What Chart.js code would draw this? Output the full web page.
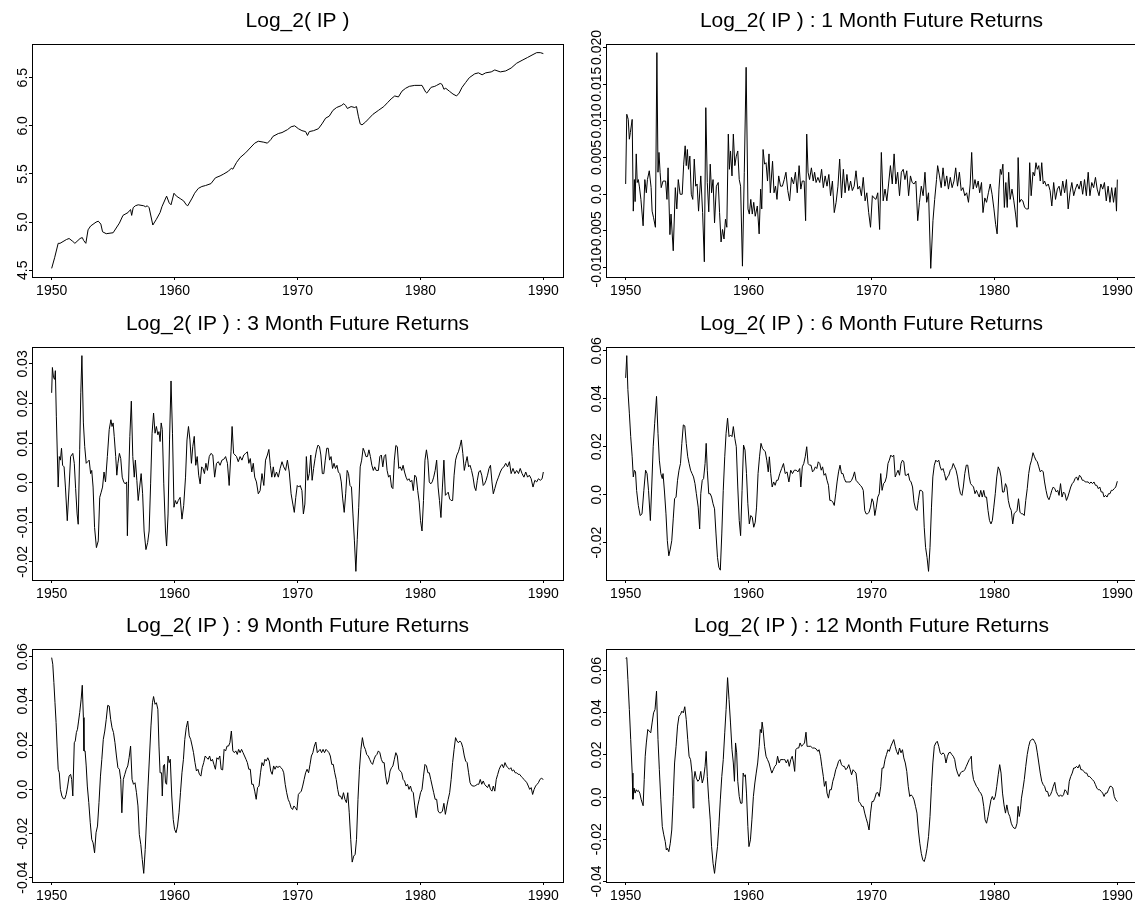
<!DOCTYPE html>
<html lang="en">
<head>
  <meta charset="UTF-8" />
  <title>Log_2( IP ) future returns</title>
  <script src="https://cdn.jsdelivr.net/npm/chart.js"></script>
  <style>
    html, body { margin: 0; padding: 0; background: #fff; overflow: hidden; }
    body { width: 1135px; height: 903px; position: relative; }
    .panel { position: absolute; width: 571px; height: 303px; }
  </style>
</head>
<body>
  <div class="panel" id="p1" style="left:0px; top:0px;"><canvas id="c1"></canvas></div>
  <div class="panel" id="p2" style="left:574px; top:0px;"><canvas id="c2"></canvas></div>
  <div class="panel" id="p3" style="left:0px; top:303px;"><canvas id="c3"></canvas></div>
  <div class="panel" id="p4" style="left:574px; top:303px;"><canvas id="c4"></canvas></div>
  <div class="panel" id="p5" style="left:0px; top:605px;"><canvas id="c5"></canvas></div>
  <div class="panel" id="p6" style="left:574px; top:605px;"><canvas id="c6"></canvas></div>

  <script>
    // ---- data ----
    const titles = [
      'Log_2( IP )',
      'Log_2( IP ) : 1 Month Future Returns',
      'Log_2( IP ) : 3 Month Future Returns',
      'Log_2( IP ) : 6 Month Future Returns',
      'Log_2( IP ) : 9 Month Future Returns',
      'Log_2( IP ) : 12 Month Future Returns'
    ];

    const xTickValues = [1950, 1960, 1970, 1980, 1990];
    const xTickLabels = ['1950', '1960', '1970', '1980', '1990'];

    const ipTicks = [4.5, 5.0, 5.5, 6.0, 6.5];
    const ipTickLabels = ['4.5', '5.0', '5.5', '6.0', '6.5'];
    const r1Ticks = [-0.010, -0.005, 0, 0.005, 0.010, 0.015, 0.020];
    const r1TickLabels = ['-0.010', '-0.005', '0.0', '0.005', '0.010', '0.015', '0.020'];
    const r3Ticks = [-0.02, -0.01, 0, 0.01, 0.02, 0.03];
    const r3TickLabels = ['-0.02', '-0.01', '0.0', '0.01', '0.02', '0.03'];
    const r6Ticks = [-0.02, 0, 0.02, 0.04, 0.06];
    const r6TickLabels = ['-0.02', '0.0', '0.02', '0.04', '0.06'];
    const r9Ticks = [-0.04, -0.02, 0, 0.02, 0.04, 0.06];
    const r9TickLabels = ['-0.04', '-0.02', '0.0', '0.02', '0.04', '0.06'];
    const r12Ticks = [-0.04, -0.02, 0, 0.02, 0.04, 0.06];
    const r12TickLabels = ['-0.04', '-0.02', '0.0', '0.02', '0.04', '0.06'];

    const ipDates = [
      1950.00,1950.24,1950.53,1950.68,1951.21,1951.42,1951.72,1951.89,1952.31,1952.49,
      1952.60,1952.78,1952.96,1953.17,1953.61,1953.79,1954.00,1954.14,1954.44,1955.00,
      1955.51,1955.80,1956.22,1956.33,1956.42,1956.51,1956.63,1956.81,1957.04,1957.49,
      1957.64,1957.78,1957.93,1958.23,1958.52,1958.82,1958.97,1959.35,1959.56,1959.71,
      1959.95,1960.15,1960.51,1960.74,1960.95,1961.07,1961.43,1961.63,1961.93,1962.22,
      1962.52,1962.96,1963.32,1963.70,1964.00,1964.39,1964.62,1964.74,1965.04,1965.33,
      1965.78,1966.22,1966.52,1966.81,1967.26,1967.55,1967.85,1968.00,1968.44,1968.74,
      1969.18,1969.48,1969.77,1970.07,1970.36,1970.66,1970.81,1970.96,1971.31,1971.70,
      1971.99,1972.29,1972.58,1972.88,1973.18,1973.56,1973.77,1973.92,1974.06,1974.36,
      1974.66,1974.80,1974.95,1975.10,1975.25,1975.54,1975.84,1976.14,1976.58,1977.02,
      1977.32,1977.62,1977.91,1978.21,1978.50,1978.80,1979.10,1979.54,1979.98,1980.13,
      1980.43,1980.52,1980.87,1981.17,1981.32,1981.61,1981.76,1981.91,1982.06,1982.35,
      1982.65,1982.94,1983.15,1983.39,1983.68,1983.98,1984.42,1984.72,1985.02,1985.31,
      1985.76,1986.05,1986.50,1986.94,1987.38,1987.83,1988.27,1988.72,1989.16,1989.46,
      1989.75,1990.00
    ];
    const ipValues = [
      4.52,4.63,4.78,4.78,4.82,4.83,4.80,4.78,4.83,4.84,
      4.81,4.78,4.92,4.96,5.00,5.01,4.98,4.90,4.88,4.89,
      4.99,5.07,5.10,5.12,5.13,5.07,5.15,5.17,5.18,5.17,
      5.16,5.17,5.15,4.97,5.03,5.10,5.16,5.27,5.20,5.18,
      5.30,5.27,5.24,5.22,5.18,5.17,5.25,5.30,5.35,5.37,
      5.38,5.40,5.46,5.48,5.50,5.53,5.56,5.55,5.62,5.67,
      5.72,5.78,5.82,5.84,5.83,5.82,5.86,5.89,5.92,5.93,
      5.96,5.99,6.00,5.97,5.95,5.94,5.90,5.94,5.95,5.97,
      6.02,6.08,6.10,6.16,6.19,6.21,6.23,6.21,6.18,6.20,
      6.19,6.20,6.10,6.02,6.01,6.04,6.08,6.12,6.16,6.20,
      6.24,6.28,6.31,6.30,6.36,6.39,6.41,6.42,6.42,6.42,
      6.35,6.34,6.40,6.41,6.42,6.44,6.43,6.38,6.39,6.36,
      6.33,6.31,6.34,6.40,6.45,6.50,6.54,6.55,6.53,6.55,
      6.56,6.58,6.56,6.57,6.60,6.65,6.68,6.71,6.74,6.76,
      6.76,6.75
    ];

    const r1Dates = [
      1950.00,1950.09,1950.21,1950.30,1950.38,1950.53,1950.62,1950.71,1950.77,1950.86,
      1950.94,1951.03,1951.12,1951.24,1951.42,1951.56,1951.68,1951.77,1951.92,1952.07,
      1952.15,1952.27,1952.42,1952.54,1952.63,1952.71,1952.80,1952.89,1953.04,1953.25,
      1953.36,1953.45,1953.60,1953.69,1953.87,1954.04,1954.16,1954.28,1954.43,1954.60,
      1954.72,1954.84,1954.93,1955.02,1955.11,1955.22,1955.34,1955.46,1955.58,1955.70,
      1955.81,1955.93,1956.11,1956.26,1956.40,1956.52,1956.64,1956.76,1956.88,1956.99,
      1957.11,1957.23,1957.38,1957.53,1957.64,1957.76,1957.88,1958.00,1958.12,1958.23,
      1958.35,1958.44,1958.53,1958.65,1958.76,1958.88,1959.00,1959.12,1959.24,1959.35,
      1959.50,1959.65,1959.80,1959.95,1960.06,1960.18,1960.30,1960.42,1960.54,1960.71,
      1960.86,1960.98,1961.07,1961.18,1961.30,1961.42,1961.54,1961.66,1961.77,1961.95,
      1962.07,1962.19,1962.31,1962.45,1962.60,1962.75,1962.90,1963.04,1963.19,1963.34,
      1963.49,1963.66,1963.81,1963.96,1964.11,1964.25,1964.37,1964.52,1964.64,1964.73,
      1964.84,1964.96,1965.11,1965.26,1965.37,1965.49,1965.64,1965.79,1965.94,1966.08,
      1966.23,1966.38,1966.53,1966.67,1966.82,1966.97,1967.12,1967.27,1967.41,1967.56,
      1967.71,1967.85,1968.00,1968.15,1968.30,1968.44,1968.59,1968.74,1968.89,1969.03,
      1969.18,1969.33,1969.48,1969.62,1969.77,1969.92,1970.07,1970.21,1970.36,1970.51,
      1970.66,1970.80,1970.95,1971.10,1971.25,1971.39,1971.54,1971.69,1971.84,1971.98,
      1972.13,1972.28,1972.43,1972.58,1972.72,1972.87,1973.02,1973.17,1973.31,1973.46,
      1973.61,1973.76,1973.90,1974.05,1974.20,1974.35,1974.49,1974.64,1974.82,1975.00,
      1975.14,1975.29,1975.38,1975.53,1975.67,1975.82,1975.97,1976.12,1976.26,1976.41,
      1976.56,1976.71,1976.85,1977.00,1977.15,1977.30,1977.44,1977.59,1977.74,1977.89,
      1978.03,1978.15,1978.27,1978.42,1978.54,1978.68,1978.80,1978.95,1979.07,1979.22,
      1979.36,1979.51,1979.66,1979.81,1979.96,1980.10,1980.22,1980.37,1980.48,1980.57,
      1980.69,1980.81,1980.93,1981.04,1981.16,1981.28,1981.43,1981.58,1981.72,1981.84,
      1981.93,1982.05,1982.17,1982.31,1982.46,1982.61,1982.76,1982.87,1982.99,1983.14,
      1983.26,1983.38,1983.49,1983.61,1983.73,1983.85,1983.97,1984.08,1984.23,1984.38,
      1984.53,1984.67,1984.82,1984.97,1985.12,1985.26,1985.41,1985.56,1985.71,1985.86,
      1986.00,1986.15,1986.30,1986.45,1986.59,1986.74,1986.89,1987.04,1987.18,1987.33,
      1987.48,1987.63,1987.77,1987.92,1988.07,1988.22,1988.36,1988.51,1988.66,1988.81,
      1988.95,1989.10,1989.25,1989.40,1989.54,1989.69,1989.84,1989.93,1990.00
    ];
    const r1Values = [
      0.0014,0.0109,0.0102,0.0075,0.0084,0.0102,-0.0023,0.0020,-0.0010,0.0055,
      0.0016,0.0020,0.0010,-0.0007,-0.0043,0.0020,0.0002,0.0020,0.0032,0.0009,
      -0.0023,-0.0032,-0.0045,0.0193,0.0030,0.0057,0.0030,0.0009,0.0018,0.0018,
      -0.0007,0.0036,-0.0055,-0.0027,-0.0077,0.0009,-0.0020,0.0020,0.0000,0.0000,
      0.0041,0.0066,0.0039,0.0061,0.0034,0.0052,0.0000,-0.0007,0.0048,0.0011,
      0.0014,-0.0023,0.0025,-0.0025,-0.0092,0.0118,0.0016,-0.0024,0.0041,0.0002,
      0.0020,-0.0039,0.0011,0.0016,-0.0025,-0.0065,-0.0048,-0.0061,-0.0034,-0.0045,
      0.0082,0.0034,0.0059,0.0025,0.0082,0.0039,0.0052,0.0059,0.0020,0.0011,
      -0.0098,0.0030,0.0173,-0.0020,-0.0027,-0.0007,-0.0027,-0.0011,-0.0030,-0.0016,
      -0.0054,0.0007,-0.0020,0.0061,0.0041,0.0043,0.0018,0.0055,0.0002,0.0045,
      0.0002,0.0011,-0.0007,0.0025,0.0011,0.0011,0.0020,0.0030,0.0005,-0.0009,
      0.0023,0.0014,0.0030,0.0002,0.0039,0.0007,0.0018,0.0018,-0.0036,0.0082,
      0.0030,0.0020,0.0036,0.0018,0.0030,0.0016,0.0023,0.0016,0.0034,0.0009,
      0.0025,0.0011,0.0027,-0.0002,0.0018,-0.0025,-0.0011,0.0011,0.0048,-0.0005,
      0.0034,0.0002,0.0027,0.0005,0.0018,0.0005,0.0011,0.0032,0.0007,0.0011,
      -0.0002,0.0023,-0.0009,0.0002,-0.0025,-0.0045,-0.0002,-0.0005,-0.0007,0.0002,
      -0.0048,0.0057,-0.0009,0.0007,-0.0009,0.0014,0.0039,0.0014,0.0055,0.0014,
      0.0030,-0.0002,0.0030,0.0034,0.0020,0.0032,-0.0002,0.0025,0.0016,0.0014,
      0.0018,-0.0036,-0.0011,0.0011,-0.0002,0.0030,-0.0011,0.0002,-0.0101,-0.0036,
      -0.0007,0.0020,0.0039,0.0025,0.0009,0.0036,0.0011,0.0025,0.0007,0.0023,
      0.0009,0.0018,0.0036,0.0011,0.0030,0.0005,0.0009,-0.0002,0.0002,-0.0011,
      0.0014,0.0057,0.0007,0.0020,0.0009,0.0018,0.0002,0.0016,-0.0025,-0.0005,
      -0.0011,0.0002,0.0014,0.0000,-0.0020,-0.0041,-0.0054,0.0007,0.0034,0.0027,
      0.0041,-0.0018,0.0016,-0.0018,0.0030,-0.0007,0.0007,-0.0009,-0.0027,-0.0045,
      0.0050,-0.0011,-0.0007,-0.0009,-0.0018,-0.0020,-0.0020,0.0043,-0.0002,0.0030,
      0.0025,0.0043,0.0034,0.0039,0.0018,0.0043,0.0014,0.0018,0.0011,0.0014,
      0.0005,-0.0016,0.0016,-0.0007,0.0007,0.0011,-0.0002,0.0018,0.0002,0.0020,
      -0.0020,0.0002,0.0016,-0.0002,0.0007,0.0014,0.0007,0.0018,0.0000,0.0020,
      -0.0002,0.0030,-0.0002,0.0016,0.0009,0.0023,0.0007,-0.0002,0.0014,0.0007,
      0.0016,-0.0009,0.0011,-0.0011,0.0009,-0.0011,0.0009,-0.0023,0.0020
    ];

    const r3Dates = [
      1950.00,1950.06,1950.15,1950.24,1950.30,1950.38,1950.53,1950.62,1950.71,1950.80,
      1950.89,1951.01,1951.12,1951.27,1951.42,1951.54,1951.63,1951.72,1951.84,1951.95,
      1952.07,1952.16,1952.28,1952.37,1952.46,1952.58,1952.69,1952.81,1952.93,1953.05,
      1953.17,1953.26,1953.37,1953.49,1953.64,1953.79,1953.91,1954.03,1954.14,1954.26,
      1954.38,1954.53,1954.68,1954.82,1954.91,1955.00,1955.09,1955.21,1955.30,1955.39,
      1955.51,1955.62,1955.74,1955.86,1955.98,1956.10,1956.16,1956.25,1956.36,1956.48,
      1956.60,1956.72,1956.81,1956.93,1957.04,1957.16,1957.28,1957.40,1957.52,1957.67,
      1957.81,1957.93,1958.05,1958.17,1958.29,1958.41,1958.52,1958.64,1958.73,1958.82,
      1958.91,1959.00,1959.12,1959.26,1959.35,1959.47,1959.59,1959.71,1959.83,1959.95,
      1960.06,1960.18,1960.30,1960.45,1960.60,1960.74,1960.89,1961.01,1961.13,1961.25,
      1961.37,1961.48,1961.60,1961.72,1961.84,1961.96,1962.08,1962.20,1962.31,1962.43,
      1962.55,1962.67,1962.82,1962.96,1963.11,1963.26,1963.41,1963.56,1963.70,1963.85,
      1964.00,1964.15,1964.30,1964.44,1964.59,1964.68,1964.80,1964.92,1965.04,1965.18,
      1965.33,1965.48,1965.63,1965.78,1965.92,1966.04,1966.16,1966.28,1966.40,1966.52,
      1966.66,1966.81,1966.96,1967.11,1967.26,1967.40,1967.55,1967.67,1967.79,1967.91,
      1968.03,1968.14,1968.29,1968.44,1968.59,1968.74,1968.88,1969.03,1969.18,1969.33,
      1969.48,1969.62,1969.74,1969.86,1969.98,1970.10,1970.22,1970.36,1970.48,1970.60,
      1970.72,1970.84,1970.96,1971.08,1971.19,1971.31,1971.43,1971.55,1971.67,1971.79,
      1971.90,1972.02,1972.14,1972.26,1972.38,1972.50,1972.61,1972.73,1972.85,1972.97,
      1973.09,1973.21,1973.32,1973.44,1973.56,1973.68,1973.80,1973.92,1974.04,1974.15,
      1974.27,1974.39,1974.51,1974.63,1974.75,1974.86,1974.98,1975.10,1975.22,1975.34,
      1975.46,1975.57,1975.69,1975.81,1975.93,1976.05,1976.17,1976.28,1976.40,1976.58,
      1976.70,1976.82,1976.94,1977.05,1977.17,1977.29,1977.41,1977.53,1977.65,1977.76,
      1977.88,1978.00,1978.12,1978.24,1978.36,1978.48,1978.59,1978.71,1978.83,1978.95,
      1979.07,1979.19,1979.30,1979.42,1979.54,1979.66,1979.78,1979.90,1980.01,1980.13,
      1980.25,1980.37,1980.49,1980.61,1980.72,1980.84,1980.96,1981.08,1981.20,1981.32,
      1981.44,1981.55,1981.67,1981.79,1981.91,1982.03,1982.15,1982.26,1982.38,1982.50,
      1982.62,1982.74,1982.86,1982.97,1983.09,1983.21,1983.33,1983.45,1983.57,1983.68,
      1983.80,1983.92,1984.04,1984.16,1984.28,1984.40,1984.51,1984.63,1984.75,1984.87,
      1984.99,1985.11,1985.22,1985.34,1985.46,1985.58,1985.70,1985.82,1985.93,1986.05,
      1986.20,1986.35,1986.50,1986.64,1986.79,1986.94,1987.09,1987.24,1987.38,1987.53,
      1987.68,1987.83,1987.98,1988.12,1988.27,1988.42,1988.57,1988.72,1988.86,1989.01,
      1989.16,1989.31,1989.46,1989.60,1989.75,1989.90,1990.00
    ];
    const r3Values = [
      0.0227,0.0291,0.0266,0.0261,0.0283,0.0168,-0.0011,0.0066,0.0057,0.0087,
      0.0044,0.0040,-0.0011,-0.0096,-0.0011,0.0066,0.0070,0.0074,0.0049,-0.0015,
      -0.0079,-0.0105,0.0083,0.0227,0.0321,0.0151,0.0091,0.0049,0.0053,0.0057,
      0.0023,0.0031,-0.0011,-0.0113,-0.0164,-0.0147,-0.0037,-0.0024,-0.0011,0.0027,
      0.0002,0.0066,0.0134,0.0159,0.0142,0.0151,0.0117,0.0066,0.0019,0.0049,
      0.0074,0.0061,0.0014,0.0002,-0.0003,0.0002,-0.0134,-0.0003,0.0117,0.0206,
      0.0066,0.0014,0.0057,0.0006,-0.0045,-0.0011,0.0023,-0.0028,-0.0122,-0.0169,
      -0.0151,-0.0122,-0.0003,0.0125,0.0176,0.0125,0.0142,0.0121,0.0129,0.0104,
      0.0151,0.0134,-0.0003,-0.0122,-0.0160,-0.0079,0.0108,0.0257,0.0125,-0.0062,
      -0.0045,-0.0054,-0.0045,-0.0037,-0.0092,-0.0058,0.0014,0.0108,0.0142,0.0108,
      0.0049,0.0091,0.0117,0.0044,0.0066,0.0019,-0.0003,0.0040,0.0036,0.0023,
      0.0049,0.0031,0.0066,0.0074,0.0070,0.0014,0.0049,0.0053,0.0044,0.0057,
      0.0059,0.0066,0.0049,-0.0007,0.0078,0.0142,0.0074,0.0070,0.0066,0.0053,
      0.0066,0.0057,0.0070,0.0074,0.0078,0.0049,0.0061,0.0027,0.0049,0.0014,
      0.0002,-0.0028,-0.0020,0.0023,-0.0007,0.0057,0.0070,0.0084,0.0044,0.0014,
      0.0040,0.0014,0.0027,0.0014,0.0036,0.0053,0.0040,0.0031,0.0057,0.0027,
      -0.0028,-0.0054,-0.0075,-0.0037,-0.0007,-0.0011,-0.0007,-0.0020,-0.0079,-0.0054,
      0.0066,0.0006,0.0023,0.0070,0.0006,0.0036,0.0061,0.0083,0.0095,0.0091,
      0.0070,0.0023,0.0023,0.0057,0.0087,0.0087,0.0057,0.0066,0.0036,0.0049,
      0.0036,0.0044,0.0027,0.0023,0.0002,-0.0041,-0.0075,-0.0028,0.0031,0.0023,
      -0.0007,-0.0011,-0.0079,-0.0147,-0.0224,-0.0143,-0.0062,0.0040,0.0057,0.0087,
      0.0078,0.0066,0.0066,0.0083,0.0066,0.0044,0.0031,0.0040,0.0031,0.0031,
      0.0066,0.0070,0.0040,0.0066,0.0071,0.0031,0.0014,0.0019,-0.0011,-0.0015,
      0.0057,0.0094,0.0091,0.0036,0.0040,0.0031,0.0044,0.0027,0.0014,0.0006,
      0.0010,0.0002,0.0006,-0.0020,0.0019,0.0014,-0.0020,-0.0049,-0.0096,-0.0122,
      -0.0045,0.0057,0.0083,0.0057,0.0002,-0.0003,0.0002,0.0014,0.0031,0.0057,
      -0.0011,-0.0045,-0.0088,-0.0011,0.0057,-0.0032,-0.0028,-0.0024,-0.0041,-0.0045,
      -0.0045,0.0019,0.0057,0.0070,0.0078,0.0091,0.0108,0.0074,0.0031,0.0049,
      0.0066,0.0040,0.0044,0.0031,0.0014,-0.0011,-0.0020,0.0006,0.0027,0.0031,
      0.0019,-0.0007,-0.0003,0.0006,0.0019,0.0036,0.0044,0.0002,-0.0028,-0.0015,
      0.0002,0.0014,0.0027,0.0036,0.0040,0.0049,0.0040,0.0053,0.0023,0.0036,
      0.0023,0.0031,0.0023,0.0036,0.0023,0.0014,0.0027,0.0014,0.0019,0.0010,
      -0.0011,0.0006,0.0002,0.0010,0.0006,0.0010,0.0027
    ];

    const r6Dates = [
      1950.00,1950.09,1950.18,1950.30,1950.41,1950.53,1950.62,1950.71,1950.80,1950.89,
      1951.03,1951.18,1951.33,1951.48,1951.62,1951.74,1951.86,1952.01,1952.12,1952.24,
      1952.36,1952.51,1952.63,1952.74,1952.86,1952.98,1953.04,1953.16,1953.28,1953.39,
      1953.51,1953.63,1953.75,1953.87,1953.98,1954.10,1954.22,1954.34,1954.46,1954.57,
      1954.69,1954.81,1954.93,1955.05,1955.16,1955.28,1955.40,1955.52,1955.64,1955.75,
      1955.90,1956.02,1956.11,1956.23,1956.34,1956.46,1956.55,1956.64,1956.76,1956.88,
      1956.99,1957.11,1957.23,1957.35,1957.47,1957.58,1957.70,1957.82,1957.94,1958.06,
      1958.17,1958.29,1958.41,1958.53,1958.65,1958.76,1958.88,1959.00,1959.12,1959.24,
      1959.35,1959.47,1959.59,1959.71,1959.83,1959.94,1960.06,1960.18,1960.30,1960.42,
      1960.54,1960.65,1960.77,1960.89,1961.01,1961.13,1961.24,1961.36,1961.48,1961.60,
      1961.69,1961.80,1961.92,1962.04,1962.16,1962.28,1962.39,1962.54,1962.69,1962.84,
      1962.98,1963.13,1963.28,1963.43,1963.57,1963.72,1963.87,1964.02,1964.16,1964.25,
      1964.37,1964.49,1964.61,1964.73,1964.84,1964.96,1965.08,1965.20,1965.32,1965.43,
      1965.55,1965.67,1965.79,1965.91,1966.02,1966.14,1966.26,1966.38,1966.50,1966.61,
      1966.73,1966.85,1966.97,1967.09,1967.20,1967.32,1967.44,1967.56,1967.68,1967.79,
      1967.91,1968.03,1968.15,1968.27,1968.38,1968.50,1968.62,1968.74,1968.86,1968.97,
      1969.09,1969.21,1969.33,1969.45,1969.56,1969.68,1969.80,1969.92,1970.04,1970.15,
      1970.27,1970.39,1970.51,1970.63,1970.75,1970.86,1970.98,1971.10,1971.22,1971.34,
      1971.45,1971.57,1971.69,1971.81,1971.93,1972.04,1972.16,1972.28,1972.40,1972.52,
      1972.63,1972.75,1972.87,1972.99,1973.11,1973.22,1973.34,1973.46,1973.58,1973.70,
      1973.81,1973.93,1974.05,1974.17,1974.29,1974.40,1974.52,1974.64,1974.76,1974.88,
      1974.99,1975.11,1975.23,1975.35,1975.47,1975.59,1975.70,1975.82,1975.94,1976.06,
      1976.18,1976.29,1976.41,1976.53,1976.65,1976.77,1976.88,1977.00,1977.12,1977.24,
      1977.36,1977.47,1977.59,1977.71,1977.83,1977.95,1978.06,1978.18,1978.30,1978.42,
      1978.54,1978.65,1978.77,1978.89,1979.01,1979.13,1979.24,1979.36,1979.48,1979.60,
      1979.72,1979.83,1979.95,1980.07,1980.19,1980.31,1980.43,1980.54,1980.66,1980.78,
      1980.90,1981.01,1981.13,1981.25,1981.37,1981.49,1981.60,1981.72,1981.84,1981.96,
      1982.08,1982.20,1982.31,1982.43,1982.55,1982.67,1982.79,1982.90,1983.02,1983.14,
      1983.26,1983.38,1983.49,1983.61,1983.73,1983.85,1983.97,1984.08,1984.20,1984.32,
      1984.44,1984.56,1984.67,1984.79,1984.91,1985.03,1985.15,1985.26,1985.38,1985.50,
      1985.62,1985.74,1985.86,1985.97,1986.09,1986.21,1986.33,1986.45,1986.56,1986.68,
      1986.80,1986.92,1987.04,1987.15,1987.27,1987.39,1987.51,1987.63,1987.74,1987.86,
      1987.98,1988.10,1988.22,1988.33,1988.45,1988.57,1988.69,1988.81,1988.92,1989.04,
      1989.16,1989.28,1989.40,1989.51,1989.63,1989.75,1989.87,1990.00
    ];
    const r6Values = [
      0.0487,0.0580,0.0438,0.0340,0.0242,0.0158,0.0074,0.0102,0.0095,0.0018,
      -0.0045,-0.0087,-0.0080,0.0018,0.0102,0.0088,0.0018,-0.0108,0.0032,0.0200,
      0.0298,0.0410,0.0256,0.0144,0.0088,0.0067,0.0088,0.0011,-0.0080,-0.0192,
      -0.0255,-0.0227,-0.0192,-0.0101,-0.0017,-0.0010,0.0060,0.0102,0.0130,0.0214,
      0.0291,0.0287,0.0214,0.0158,0.0130,0.0102,0.0088,0.0074,0.0046,0.0004,
      -0.0052,-0.0143,0.0004,0.0060,0.0067,0.0130,0.0214,0.0102,0.0004,0.0004,
      -0.0010,-0.0038,-0.0059,-0.0164,-0.0262,-0.0303,-0.0315,-0.0164,0.0018,0.0158,
      0.0256,0.0319,0.0242,0.0249,0.0242,0.0284,0.0235,0.0200,0.0032,-0.0108,
      -0.0171,0.0018,0.0207,0.0186,0.0088,-0.0038,-0.0122,-0.0087,-0.0094,-0.0136,
      -0.0115,-0.0052,0.0088,0.0158,0.0214,0.0193,0.0186,0.0179,0.0144,0.0095,
      0.0158,0.0088,0.0032,0.0053,0.0039,0.0060,0.0060,0.0088,0.0109,0.0130,
      0.0088,0.0095,0.0053,0.0102,0.0088,0.0102,0.0102,0.0095,0.0109,0.0032,
      0.0116,0.0130,0.0158,0.0200,0.0130,0.0123,0.0123,0.0095,0.0102,0.0116,
      0.0109,0.0137,0.0130,0.0102,0.0116,0.0081,0.0088,0.0060,0.0039,-0.0024,
      -0.0024,-0.0031,-0.0045,0.0004,0.0053,0.0095,0.0123,0.0088,0.0088,0.0067,
      0.0053,0.0053,0.0053,0.0053,0.0060,0.0074,0.0095,0.0060,0.0053,0.0046,
      0.0039,0.0032,0.0018,-0.0066,-0.0080,-0.0080,-0.0073,-0.0052,-0.0017,-0.0031,
      -0.0087,-0.0052,-0.0010,0.0004,0.0088,0.0018,0.0046,0.0053,0.0074,0.0130,
      0.0144,0.0165,0.0158,0.0165,0.0074,0.0088,0.0102,0.0081,0.0130,0.0144,
      0.0137,0.0081,0.0081,0.0088,0.0060,0.0053,0.0032,-0.0031,-0.0059,-0.0066,
      -0.0024,0.0018,0.0018,0.0011,-0.0136,-0.0220,-0.0262,-0.0320,-0.0220,-0.0052,
      0.0074,0.0123,0.0144,0.0137,0.0144,0.0116,0.0102,0.0109,0.0088,0.0060,
      0.0074,0.0081,0.0102,0.0109,0.0130,0.0116,0.0102,0.0074,0.0032,0.0004,
      -0.0003,0.0032,0.0088,0.0123,0.0123,0.0074,0.0046,0.0039,0.0032,0.0004,
      0.0018,0.0004,-0.0010,0.0018,-0.0010,0.0018,-0.0010,-0.0010,-0.0066,-0.0108,
      -0.0122,-0.0108,-0.0052,0.0004,0.0074,0.0116,0.0102,0.0074,0.0011,0.0011,
      0.0046,0.0032,-0.0024,-0.0052,-0.0066,-0.0122,-0.0080,-0.0073,-0.0066,-0.0017,
      -0.0073,-0.0080,-0.0080,-0.0087,-0.0024,0.0025,0.0088,0.0123,0.0144,0.0175,
      0.0158,0.0144,0.0137,0.0116,0.0095,0.0102,0.0095,0.0053,0.0018,-0.0010,
      -0.0021,-0.0003,0.0018,0.0032,0.0025,0.0011,0.0018,-0.0003,0.0046,-0.0010,
      0.0011,0.0004,-0.0024,-0.0010,0.0011,0.0032,0.0046,0.0053,0.0067,0.0074,
      0.0060,0.0081,0.0074,0.0060,0.0060,0.0053,0.0053,0.0053,0.0046,0.0053,
      0.0046,0.0053,0.0039,0.0039,0.0025,0.0032,0.0011,0.0011,-0.0010,-0.0003,
      -0.0010,0.0004,0.0004,0.0018,0.0018,0.0025,0.0032,0.0056
    ];

    const r9Dates = [
      1950.00,1950.09,1950.18,1950.27,1950.36,1950.44,1950.53,1950.62,1950.71,1950.83,
      1950.95,1951.07,1951.18,1951.30,1951.42,1951.54,1951.63,1951.72,1951.84,1951.92,
      1952.01,1952.10,1952.19,1952.28,1952.40,1952.49,1952.58,1952.63,1952.72,1952.81,
      1952.90,1953.02,1953.14,1953.26,1953.37,1953.49,1953.61,1953.73,1953.85,1953.97,
      1954.08,1954.20,1954.32,1954.44,1954.56,1954.68,1954.80,1954.91,1955.03,1955.15,
      1955.27,1955.39,1955.51,1955.62,1955.71,1955.83,1955.95,1956.07,1956.19,1956.30,
      1956.42,1956.54,1956.66,1956.78,1956.90,1957.02,1957.13,1957.25,1957.37,1957.49,
      1957.61,1957.73,1957.84,1957.96,1958.08,1958.20,1958.29,1958.41,1958.52,1958.64,
      1958.73,1958.82,1958.94,1959.00,1959.09,1959.18,1959.26,1959.35,1959.47,1959.56,
      1959.65,1959.77,1959.89,1960.00,1960.12,1960.24,1960.36,1960.48,1960.60,1960.72,
      1960.83,1960.95,1961.07,1961.19,1961.31,1961.43,1961.54,1961.66,1961.78,1961.90,
      1962.02,1962.14,1962.25,1962.37,1962.49,1962.61,1962.73,1962.85,1962.96,1963.08,
      1963.20,1963.32,1963.44,1963.56,1963.68,1963.79,1963.91,1964.03,1964.15,1964.27,
      1964.39,1964.50,1964.62,1964.74,1964.86,1964.98,1965.10,1965.21,1965.33,1965.45,
      1965.57,1965.69,1965.81,1965.92,1966.04,1966.16,1966.28,1966.40,1966.52,1966.64,
      1966.75,1966.87,1966.99,1967.11,1967.23,1967.35,1967.46,1967.58,1967.70,1967.82,
      1967.94,1968.06,1968.17,1968.29,1968.41,1968.53,1968.65,1968.77,1968.88,1969.00,
      1969.12,1969.24,1969.36,1969.48,1969.60,1969.71,1969.83,1969.95,1970.07,1970.19,
      1970.31,1970.42,1970.54,1970.66,1970.78,1970.90,1971.02,1971.13,1971.25,1971.37,
      1971.49,1971.61,1971.73,1971.84,1971.96,1972.08,1972.20,1972.32,1972.44,1972.56,
      1972.67,1972.79,1972.91,1973.03,1973.15,1973.27,1973.38,1973.50,1973.62,1973.74,
      1973.86,1973.98,1974.09,1974.21,1974.33,1974.45,1974.57,1974.69,1974.80,1974.92,
      1975.04,1975.16,1975.28,1975.40,1975.52,1975.63,1975.75,1975.87,1975.99,1976.11,
      1976.23,1976.34,1976.46,1976.58,1976.70,1976.82,1976.94,1977.05,1977.17,1977.29,
      1977.41,1977.53,1977.65,1977.76,1977.88,1978.00,1978.12,1978.24,1978.36,1978.48,
      1978.59,1978.71,1978.83,1978.95,1979.07,1979.19,1979.30,1979.42,1979.54,1979.66,
      1979.78,1979.90,1980.01,1980.13,1980.25,1980.37,1980.49,1980.61,1980.72,1980.84,
      1980.96,1981.08,1981.20,1981.32,1981.44,1981.55,1981.67,1981.79,1981.91,1982.03,
      1982.15,1982.26,1982.38,1982.50,1982.62,1982.74,1982.86,1982.97,1983.09,1983.21,
      1983.33,1983.45,1983.57,1983.68,1983.80,1983.92,1984.04,1984.16,1984.28,1984.40,
      1984.51,1984.63,1984.75,1984.87,1984.99,1985.11,1985.22,1985.34,1985.46,1985.58,
      1985.70,1985.82,1985.93,1986.05,1986.17,1986.29,1986.41,1986.53,1986.64,1986.76,
      1986.88,1987.00,1987.12,1987.24,1987.36,1987.47,1987.59,1987.71,1987.83,1987.95,
      1988.07,1988.18,1988.30,1988.42,1988.54,1988.66,1988.78,1988.89,1989.01,1989.13,
      1989.25,1989.37,1989.49,1989.60,1989.72,1989.84,1990.00
    ];
    const r9Values = [
      0.0596,0.0566,0.0483,0.0392,0.0302,0.0196,0.0091,0.0075,0.0000,-0.0030,
      -0.0042,-0.0042,-0.0023,0.0015,0.0060,0.0068,0.0045,-0.0030,0.0211,0.0219,
      0.0257,0.0272,0.0309,0.0347,0.0408,0.0471,0.0325,0.0174,0.0174,0.0106,
      0.0015,-0.0060,-0.0151,-0.0226,-0.0242,-0.0287,-0.0196,-0.0166,-0.0060,0.0060,
      0.0136,0.0226,0.0264,0.0317,0.0380,0.0377,0.0317,0.0279,0.0257,0.0211,
      0.0151,0.0098,0.0091,0.0045,-0.0106,0.0045,0.0068,0.0091,0.0106,0.0143,
      0.0196,0.0045,0.0023,0.0030,-0.0015,-0.0075,-0.0204,-0.0249,-0.0317,-0.0380,
      -0.0272,-0.0121,0.0015,0.0151,0.0287,0.0392,0.0420,0.0385,0.0392,0.0362,
      0.0196,0.0075,0.0075,-0.0030,0.0106,0.0113,0.0030,0.0023,0.0151,0.0121,
      0.0136,-0.0030,-0.0136,-0.0181,-0.0196,-0.0166,-0.0106,-0.0015,0.0075,0.0136,
      0.0226,0.0279,0.0309,0.0242,0.0226,0.0196,0.0166,0.0121,0.0083,0.0091,
      0.0068,0.0060,0.0098,0.0121,0.0151,0.0143,0.0136,0.0151,0.0128,0.0136,
      0.0113,0.0091,0.0143,0.0136,0.0151,0.0091,0.0088,0.0181,0.0174,0.0196,
      0.0196,0.0211,0.0264,0.0174,0.0166,0.0174,0.0158,0.0181,0.0166,0.0181,
      0.0166,0.0151,0.0136,0.0121,0.0091,0.0091,0.0023,0.0023,-0.0008,-0.0045,
      0.0008,0.0015,0.0075,0.0121,0.0106,0.0136,0.0128,0.0143,0.0128,0.0083,
      0.0068,0.0106,0.0091,0.0106,0.0098,0.0106,0.0098,0.0091,0.0075,0.0023,
      -0.0015,-0.0045,-0.0060,-0.0083,-0.0091,-0.0075,-0.0083,-0.0094,-0.0023,-0.0015,
      -0.0008,0.0015,0.0045,0.0075,0.0091,0.0075,0.0113,0.0151,0.0166,0.0196,
      0.0214,0.0166,0.0174,0.0181,0.0166,0.0181,0.0166,0.0181,0.0174,0.0166,
      0.0151,0.0113,0.0113,0.0075,0.0045,0.0000,-0.0030,-0.0030,-0.0045,-0.0015,
      -0.0045,-0.0060,-0.0015,-0.0106,-0.0226,-0.0329,-0.0302,-0.0294,-0.0226,-0.0045,
      0.0091,0.0181,0.0234,0.0196,0.0181,0.0158,0.0151,0.0136,0.0121,0.0113,
      0.0136,0.0151,0.0158,0.0174,0.0166,0.0136,0.0121,0.0121,0.0060,0.0023,
      0.0038,0.0083,0.0098,0.0106,0.0136,0.0166,0.0151,0.0091,0.0083,0.0075,
      0.0045,0.0038,0.0015,0.0023,0.0000,0.0015,-0.0008,-0.0015,-0.0075,-0.0128,
      -0.0075,-0.0045,-0.0015,0.0000,0.0060,0.0113,0.0106,0.0075,0.0075,0.0045,
      0.0015,-0.0015,-0.0045,-0.0045,-0.0098,-0.0106,-0.0106,-0.0098,-0.0063,-0.0113,
      -0.0075,-0.0045,-0.0015,0.0045,0.0121,0.0181,0.0234,0.0219,0.0211,0.0219,
      0.0211,0.0189,0.0151,0.0128,0.0121,0.0075,0.0030,0.0018,0.0015,0.0015,
      0.0018,0.0023,0.0023,0.0045,0.0023,0.0038,0.0023,0.0015,0.0008,0.0023,
      0.0000,-0.0008,0.0015,-0.0008,0.0045,0.0068,0.0091,0.0106,0.0113,0.0098,
      0.0121,0.0106,0.0098,0.0091,0.0098,0.0083,0.0088,0.0075,0.0075,0.0068,
      0.0068,0.0060,0.0053,0.0045,0.0038,0.0030,0.0015,0.0000,0.0008,-0.0023,
      0.0000,0.0015,0.0023,0.0030,0.0045,0.0050,0.0045
    ];

    const r12Dates = [
      1950.00,1950.09,1950.18,1950.30,1950.41,1950.53,1950.59,1950.68,1950.77,1950.86,
      1950.94,1951.03,1951.15,1951.27,1951.42,1951.51,1951.59,1951.68,1951.80,1951.92,
      1952.04,1952.15,1952.27,1952.39,1952.51,1952.63,1952.74,1952.86,1952.98,1953.10,
      1953.22,1953.31,1953.39,1953.51,1953.63,1953.75,1953.87,1953.98,1954.10,1954.22,
      1954.34,1954.46,1954.57,1954.69,1954.81,1954.93,1955.05,1955.16,1955.28,1955.40,
      1955.49,1955.55,1955.64,1955.75,1955.87,1955.99,1956.11,1956.23,1956.34,1956.46,
      1956.55,1956.64,1956.76,1956.88,1956.99,1957.11,1957.23,1957.35,1957.47,1957.58,
      1957.70,1957.82,1957.94,1958.06,1958.17,1958.29,1958.41,1958.53,1958.65,1958.76,
      1958.85,1958.94,1959.03,1959.12,1959.24,1959.35,1959.47,1959.56,1959.65,1959.74,
      1959.83,1959.94,1960.03,1960.15,1960.27,1960.39,1960.51,1960.62,1960.74,1960.86,
      1960.95,1961.04,1961.10,1961.18,1961.30,1961.42,1961.54,1961.66,1961.77,1961.89,
      1962.01,1962.13,1962.25,1962.36,1962.48,1962.60,1962.72,1962.84,1962.95,1963.07,
      1963.19,1963.31,1963.43,1963.55,1963.66,1963.75,1963.84,1963.96,1964.08,1964.19,
      1964.31,1964.43,1964.55,1964.67,1964.76,1964.90,1965.05,1965.20,1965.35,1965.49,
      1965.64,1965.73,1965.85,1965.96,1966.08,1966.17,1966.29,1966.38,1966.50,1966.61,
      1966.73,1966.85,1966.97,1967.09,1967.20,1967.32,1967.44,1967.56,1967.68,1967.79,
      1967.91,1968.03,1968.15,1968.27,1968.38,1968.50,1968.62,1968.74,1968.86,1968.97,
      1969.09,1969.21,1969.33,1969.45,1969.56,1969.68,1969.80,1969.92,1970.04,1970.15,
      1970.27,1970.39,1970.51,1970.63,1970.75,1970.86,1970.98,1971.10,1971.22,1971.34,
      1971.45,1971.57,1971.69,1971.81,1971.93,1972.04,1972.16,1972.28,1972.40,1972.52,
      1972.63,1972.75,1972.87,1972.99,1973.11,1973.22,1973.34,1973.46,1973.58,1973.70,
      1973.81,1973.93,1974.05,1974.17,1974.29,1974.40,1974.52,1974.64,1974.76,1974.88,
      1974.99,1975.11,1975.23,1975.35,1975.47,1975.59,1975.70,1975.82,1975.94,1976.06,
      1976.18,1976.29,1976.41,1976.53,1976.65,1976.77,1976.88,1977.00,1977.12,1977.24,
      1977.36,1977.47,1977.59,1977.71,1977.83,1977.95,1978.06,1978.12,1978.18,1978.30,
      1978.42,1978.54,1978.65,1978.77,1978.89,1979.01,1979.13,1979.24,1979.36,1979.48,
      1979.60,1979.72,1979.83,1979.95,1980.07,1980.19,1980.31,1980.43,1980.54,1980.66,
      1980.78,1980.90,1981.01,1981.13,1981.25,1981.37,1981.49,1981.60,1981.72,1981.84,
      1981.93,1982.02,1982.11,1982.20,1982.31,1982.43,1982.55,1982.67,1982.79,1982.90,
      1983.02,1983.14,1983.26,1983.38,1983.49,1983.61,1983.73,1983.85,1983.97,1984.08,
      1984.20,1984.32,1984.44,1984.56,1984.67,1984.79,1984.91,1985.03,1985.15,1985.26,
      1985.38,1985.50,1985.62,1985.74,1985.86,1985.97,1986.09,1986.21,1986.33,1986.45,
      1986.56,1986.68,1986.80,1986.92,1987.04,1987.15,1987.27,1987.39,1987.51,1987.63,
      1987.74,1987.86,1987.98,1988.10,1988.22,1988.33,1988.45,1988.57,1988.69,1988.81,
      1988.92,1989.04,1989.16,1989.28,1989.40,1989.51,1989.63,1989.75,1989.87,1990.00
    ];
    const r12Values = [
      0.0659,0.0662,0.0559,0.0416,0.0273,0.0114,-0.0010,0.0043,0.0019,0.0035,
      0.0027,0.0032,0.0019,-0.0013,-0.0041,0.0083,0.0194,0.0257,0.0321,0.0313,
      0.0305,0.0352,0.0400,0.0416,0.0503,0.0273,0.0130,-0.0013,-0.0140,-0.0179,
      -0.0211,-0.0251,-0.0243,-0.0259,-0.0219,-0.0156,0.0003,0.0162,0.0241,0.0337,
      0.0384,0.0392,0.0408,0.0400,0.0429,0.0368,0.0273,0.0194,0.0178,0.0114,
      -0.0052,0.0083,0.0122,0.0090,0.0075,0.0083,0.0122,0.0067,0.0090,0.0146,
      0.0217,0.0098,-0.0013,-0.0108,-0.0235,-0.0314,-0.0362,-0.0298,-0.0235,-0.0140,
      -0.0013,0.0098,0.0178,0.0305,0.0416,0.0567,0.0463,0.0352,0.0225,0.0162,
      0.0075,0.0257,0.0210,0.0075,0.0003,-0.0029,-0.0029,0.0114,0.0098,0.0106,
      0.0019,-0.0140,-0.0235,-0.0203,-0.0108,0.0003,0.0067,0.0114,0.0162,0.0241,
      0.0321,0.0305,0.0356,0.0321,0.0241,0.0194,0.0178,0.0162,0.0138,0.0114,
      0.0130,0.0146,0.0154,0.0194,0.0162,0.0178,0.0178,0.0178,0.0178,0.0162,
      0.0178,0.0146,0.0178,0.0194,0.0162,0.0122,0.0225,0.0233,0.0233,0.0257,
      0.0241,0.0249,0.0257,0.0308,0.0241,0.0241,0.0241,0.0233,0.0233,0.0229,
      0.0217,0.0225,0.0194,0.0146,0.0098,0.0051,0.0075,0.0019,-0.0005,0.0035,
      0.0035,0.0075,0.0098,0.0130,0.0146,0.0170,0.0178,0.0154,0.0146,0.0146,
      0.0130,0.0138,0.0154,0.0130,0.0106,0.0130,0.0122,0.0114,0.0051,-0.0021,
      -0.0029,-0.0044,-0.0044,-0.0076,-0.0100,-0.0124,-0.0156,-0.0076,-0.0021,-0.0021,
      -0.0005,0.0019,0.0022,0.0003,0.0051,0.0138,0.0138,0.0178,0.0202,0.0225,
      0.0217,0.0241,0.0257,0.0273,0.0241,0.0217,0.0202,0.0233,0.0210,0.0225,
      0.0186,0.0162,0.0122,0.0051,0.0003,0.0011,0.0003,-0.0013,-0.0044,-0.0076,
      -0.0156,-0.0219,-0.0267,-0.0298,-0.0306,-0.0283,-0.0243,-0.0187,-0.0092,0.0051,
      0.0162,0.0241,0.0257,0.0265,0.0241,0.0210,0.0202,0.0210,0.0202,0.0162,
      0.0194,0.0210,0.0213,0.0202,0.0194,0.0178,0.0138,0.0114,0.0098,0.0114,
      0.0122,0.0122,0.0130,0.0146,0.0162,0.0178,0.0186,0.0194,0.0130,0.0083,
      0.0067,0.0051,0.0043,0.0027,0.0019,0.0003,-0.0044,-0.0108,-0.0124,-0.0092,
      -0.0052,-0.0013,0.0003,-0.0013,0.0003,0.0051,0.0106,0.0154,0.0114,0.0019,
      -0.0037,-0.0076,-0.0037,-0.0076,-0.0092,-0.0124,-0.0140,-0.0148,-0.0148,-0.0124,
      -0.0044,-0.0092,-0.0060,-0.0005,0.0035,0.0083,0.0146,0.0202,0.0241,0.0265,
      0.0273,0.0276,0.0265,0.0249,0.0210,0.0162,0.0114,0.0075,0.0059,0.0051,
      0.0027,0.0027,0.0003,0.0011,0.0027,0.0051,0.0070,0.0027,0.0011,0.0003,
      0.0011,0.0003,0.0011,0.0035,0.0027,0.0011,0.0075,0.0098,0.0114,0.0138,
      0.0138,0.0146,0.0138,0.0154,0.0130,0.0130,0.0122,0.0114,0.0114,0.0098,
      0.0098,0.0090,0.0083,0.0075,0.0059,0.0043,0.0035,0.0035,0.0027,0.0019,
      0.0003,0.0019,0.0019,0.0035,0.0051,0.0051,0.0043,0.0003,-0.0013,-0.0021
    ];

    // ---- layout ----
    const AXIS_W = 32;    // space left of the plot box
    const AXIS_H = 26;    // space below the plot box
    const FONT = '"Liberation Sans", Arial, Helvetica, sans-serif';
    const TICK_FONT = 14;
    const TITLE_FONT = 21;

    Chart.defaults.font.family = FONT;
    Chart.defaults.color = '#000';

    // draws the plot frame and the rotated y tick labels (R style)
    const frameAndYLabels = {
      id: 'frameAndYLabels',
      afterDraw(chart, args, opts) {
        const { ctx, chartArea: a, scales: { y } } = chart;
        ctx.save();
        ctx.strokeStyle = '#000';
        ctx.lineWidth = 1;
        ctx.strokeRect(Math.round(a.left) + 0.5, Math.round(a.top) + 0.5,
                       Math.round(a.right - a.left), Math.round(a.bottom - a.top));
        ctx.fillStyle = '#000';
        ctx.font = TICK_FONT + 'px ' + FONT;
        ctx.textAlign = 'center';
        ctx.textBaseline = 'middle';
        y.ticks.forEach((t, i) => {
          const py = y.getPixelForValue(t.value);
          ctx.save();
          ctx.translate(a.left - 8.5, py);
          ctx.rotate(-Math.PI / 2);
          ctx.fillText(opts.labels[i], 0, 0);
          ctx.restore();
        });
        ctx.restore();
      }
    };

    function pad4(arr) {
      const lo = Math.min(...arr), hi = Math.max(...arr);
      const d = (hi - lo) * 0.04;
      return [lo - d, hi + d];
    }

    function makePanel(canvasId, title, dates, values, yTicks, yTickLabels) {
      const n = Math.min(dates.length, values.length);
      const pts = [];
      for (let i = 0; i < n; i++) pts.push({ x: dates[i], y: values[i] });
      const [xmin, xmax] = pad4(dates);
      const [ymin, ymax] = pad4(values);

      new Chart(document.getElementById(canvasId), {
        type: 'line',
        data: {
          datasets: [{
            data: pts,
            borderColor: '#000',
            borderWidth: 1,
            pointRadius: 0,
            fill: false,
            tension: 0
          }]
        },
        options: {
          responsive: true,
          maintainAspectRatio: false,
          animation: false,
          events: [],
          parsing: false,
          layout: { padding: { left: 0, right: 8, top: 0, bottom: 0 } },
          plugins: {
            legend: { display: false },
            tooltip: { enabled: false },
            title: {
              display: true,
              text: title,
              fullSize: false,
              color: '#000',
              font: { size: TITLE_FONT, weight: 'normal', family: FONT, lineHeight: 1.2 },
              padding: { top: 8.9, bottom: 9.9 }
            },
            frameAndYLabels: { labels: yTickLabels }
          },
          scales: {
            x: {
              type: 'linear',
              min: xmin,
              max: xmax,
              afterBuildTicks: (s) => { s.ticks = xTickValues.map(v => ({ value: v })); },
              afterFit: (s) => { s.height = AXIS_H; },
              grid: { display: true, drawOnChartArea: false, drawTicks: true, tickLength: 3, color: '#000' },
              border: { display: false },
              ticks: {
                autoSkip: false,
                maxRotation: 0,
                padding: 2.9,
                color: '#000',
                font: { size: TICK_FONT, family: FONT },
                callback: (v) => {
                  const k = xTickValues.indexOf(v);
                  return k >= 0 ? xTickLabels[k] : '';
                }
              }
            },
            y: {
              type: 'linear',
              min: ymin,
              max: ymax,
              afterBuildTicks: (s) => { s.ticks = yTicks.map(v => ({ value: v })); },
              afterFit: (s) => { s.width = AXIS_W; },
              grid: { display: true, drawOnChartArea: false, drawTicks: true, tickLength: 3, color: '#000' },
              border: { display: false },
              ticks: { display: false }
            }
          }
        },
        plugins: [frameAndYLabels]
      });
    }

    makePanel('c1', titles[0], ipDates, ipValues, ipTicks, ipTickLabels);
    makePanel('c2', titles[1], r1Dates, r1Values, r1Ticks, r1TickLabels);
    makePanel('c3', titles[2], r3Dates, r3Values, r3Ticks, r3TickLabels);
    makePanel('c4', titles[3], r6Dates, r6Values, r6Ticks, r6TickLabels);
    makePanel('c5', titles[4], r9Dates, r9Values, r9Ticks, r9TickLabels);
    makePanel('c6', titles[5], r12Dates, r12Values, r12Ticks, r12TickLabels);
  </script>
</body>
</html>
